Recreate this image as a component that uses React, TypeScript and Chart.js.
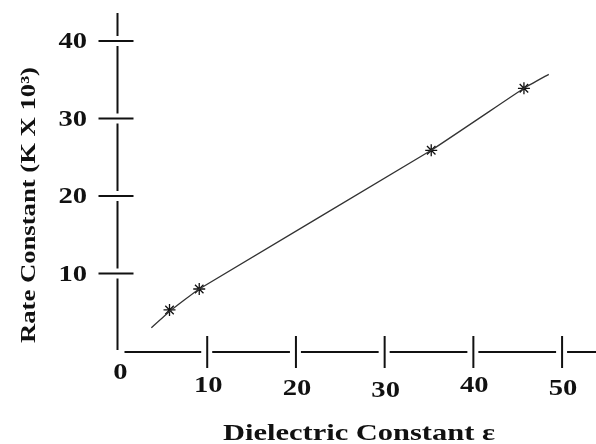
import React, { useEffect, useRef } from "react";
import { Chart, registerables } from "chart.js";

Chart.register(...registerables);

const markerX = [5.75, 9.1, 35.25, 45.7];
const markerY = [5.3, 8.0, 25.9, 33.9];
const curveX = [3.7, 5.75, 9.1, 35.25, 45.7, 48.5];
const curveY = [3.0, 5.1, 8.0, 25.9, 33.9, 35.7];
const xTicks = [10, 20, 30, 40, 50];
const yTicks = [10, 20, 30, 40];
const xTitle = "Dielectric Constant \u03B5";
const yTitle = "Rate Constant (K X 10\u00B3)";

const FONT = "'Liberation Serif', serif";

const axesPlugin = {
  id: "handAxes",
  beforeDatasetsDraw(chart: any) {
    const ctx = chart.ctx as CanvasRenderingContext2D;
    const xs = chart.scales.x;
    const ys = chart.scales.y;
    const ax = xs.getPixelForValue(0) - 1;
    const ay = ys.getPixelForValue(0);
    const topY = ys.getPixelForValue(ys.max) + 3;
    const rightX = chart.width;
    ctx.save();
    ctx.strokeStyle = "#111";
    ctx.lineWidth = 2;
    ctx.lineCap = "butt";
    const yt = yTicks.map((v) => ys.getPixelForValue(v)).sort((a, b) => a - b);
    let start = topY;
    ctx.beginPath();
    yt.forEach((p) => {
      ctx.moveTo(ax, start);
      ctx.lineTo(ax, p - 5);
      start = p + 5;
    });
    ctx.moveTo(ax, start);
    ctx.lineTo(ax, ay - 1);
    yt.forEach((p) => {
      ctx.moveTo(ax - 19, p);
      ctx.lineTo(ax + 16, p);
    });
    const xt = xTicks.map((v) => xs.getPixelForValue(v));
    let sx = ax + 7;
    xt.forEach((p) => {
      ctx.moveTo(sx, ay + 1);
      ctx.lineTo(p - 6, ay + 1);
      sx = p + 5;
    });
    ctx.moveTo(sx, ay + 1);
    ctx.lineTo(rightX, ay + 1);
    xt.forEach((p) => {
      ctx.moveTo(p, ay - 15);
      ctx.lineTo(p, ay + 17);
    });
    ctx.stroke();

    ctx.fillStyle = "#111";
    ctx.font = `bold 22px ${FONT}`;
    const drawScaled = (t: string, x: number, y: number) => {
      ctx.save();
      ctx.translate(x, y);
      ctx.scale(1.3, 1.08);
      ctx.fillText(t, 0, 0);
      ctx.restore();
    };
    ctx.textAlign = "right";
    ctx.textBaseline = "middle";
    yTicks.forEach((v) => {
      drawScaled(String(v), 87, ys.getPixelForValue(v) + 1);
    });
    ctx.textAlign = "center";
    drawScaled("0", ax + 3, ay + 22);
    xTicks.forEach((v, i) => {
      const p = xs.getPixelForValue(v);
      const off = [0, 3, 5, 0, 3][i];
      drawScaled(String(v), p + 1, ay + 35 + off);
    });

    ctx.textBaseline = "alphabetic";
    const w = ctx.measureText(xTitle).width;
    ctx.save();
    ctx.translate(359, 440);
    ctx.scale(272 / w, 1.05);
    ctx.fillText(xTitle, 0, 0);
    ctx.restore();

    const wy = ctx.measureText(yTitle).width;
    ctx.save();
    ctx.translate(35, 205);
    ctx.rotate(-Math.PI / 2);
    ctx.scale(276 / wy, 1.0);
    ctx.fillText(yTitle, 0, 0);
    ctx.restore();
    ctx.restore();
  },
};

export default function App() {
  const ref = useRef<HTMLCanvasElement | null>(null);
  useEffect(() => {
    document.body.style.margin = "0";
    const canvas = ref.current;
    if (!canvas) return;
    const chart = new Chart(canvas, {
      type: "scatter",
      data: {
        datasets: [
          {
            label: "curve",
            data: curveX.map((x, i) => ({ x, y: curveY[i] })),
            showLine: true,
            borderColor: "#333",
            borderWidth: 1.3,
            pointRadius: 0,
            tension: 0.1,
          },
          {
            label: "points",
            data: markerX.map((x, i) => ({ x, y: markerY[i] })),
            pointStyle: "star",
            pointRadius: 6,
            borderColor: "#111",
            backgroundColor: "#111",
            borderWidth: 1.3,
            showLine: false,
          },
        ],
      },
      options: {
        responsive: false,
        animation: false,
        layout: { padding: { left: 118.5, right: 3, top: 10, bottom: 93 } },
        plugins: { legend: { display: false }, tooltip: { enabled: false } },
        scales: {
          x: { type: "linear", min: 0, max: 53, display: false },
          y: { type: "linear", min: 0, max: 44, display: false },
        },
      },
      plugins: [axesPlugin],
    } as any);
    return () => chart.destroy();
  }, []);
  return <canvas ref={ref} width={596} height={444} style={{ display: "block" }} />;
}
